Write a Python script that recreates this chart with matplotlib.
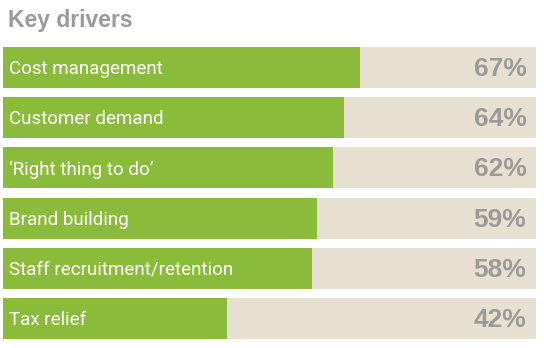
import matplotlib
matplotlib.use("Agg")
import matplotlib.pyplot as plt
from matplotlib import font_manager

# ── Data ──────────────────────────────────────────────────────────────────────
drivers = ["Cost management", "Customer demand", "\u2018Right thing to do\u2019",
           "Brand building", "Staff recruitment/retention", "Tax relief"]
shares = [67, 64, 62, 59, 58, 42]

GREEN = "#8bbb3b"
BEIGE = "#e7e0d0"
GREY = "#9a9a9a"

names = {f.name for f in font_manager.fontManager.ttflist}
narrow = "Liberation Sans Narrow" if "Liberation Sans Narrow" in names else "Roboto"
plt.rcParams["font.family"] = [narrow, "DejaVu Sans"]

fig = plt.figure(figsize=(5.44, 3.48), dpi=100)
ax = fig.add_axes([3 / 544, 1 - 339 / 348, 533 / 544, 292 / 348])

h = 0.815
pos = list(range(len(drivers)))
ax.barh(pos, [100] * len(drivers), height=h, color=BEIGE, linewidth=0)
ax.barh(pos, shares, height=h, color=GREEN, linewidth=0)

for y, name, val in zip(pos, drivers, shares):
    ax.text(1.2, y + 0.03, name, color="white", fontsize=13.5,
            va="center", ha="left")
    ax.text(98.2, y + 0.03, f"{val}%", color=GREY, fontsize=19,
            fontweight="bold", va="center", ha="right", family="Liberation Sans")

ax.set_xlim(0, 100)
ax.set_ylim(len(drivers) - 1 + h / 2, -h / 2)
ax.axis("off")

fig.text(8 / 544, 1 - 20 / 348, "Key drivers", color=GREY, fontsize=16.5,
         fontweight="bold", va="center", ha="left", family="Liberation Sans")

fig.savefig("out.png", dpi=100)
